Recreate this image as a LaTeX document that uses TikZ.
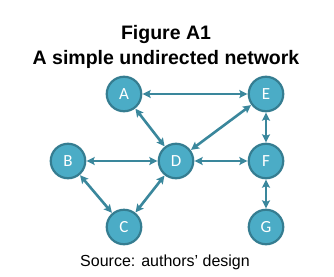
\documentclass[tikz,border=0pt]{standalone}
\usepackage{fontspec}
\setmainfont{Liberation Sans}
\newfontfamily\nodefont{Carlito}
\usetikzlibrary{arrows.meta}
\definecolor{nodefill}{HTML}{4BACC6}
\definecolor{nodeline}{HTML}{357D91}
\definecolor{edgecol}{HTML}{3A879C}
\begin{document}
\begin{tikzpicture}[x=1pt,y=-1pt,
  vertex/.style={circle,fill=nodefill,draw=nodeline,line width=2.2pt,minimum size=34.5pt,inner sep=0pt,text=white,font=\nodefont\fontsize{17}{17}\selectfont},
  link/.style={draw=edgecol,line width=2.6pt,{Stealth[length=8pt,width=8pt,inset=1.5pt]}-{Stealth[length=8pt,width=8pt,inset=1.5pt]},shorten <=0.3pt,shorten >=0.3pt}]
\useasboundingbox (0,0) rectangle (334,276);
\fill[white] (0,0) rectangle (334,276);
\node[anchor=base,font=\bfseries\fontsize{19.5}{19.5}\selectfont] (t1) at (166,39) {Figure A1};
\node[anchor=base,font=\bfseries\fontsize{19.5}{19.5}\selectfont] (t2) at (166,64.5) {A simple undirected network};
\node[vertex] (A) at (124,94) {A};
\node[vertex] (E) at (266,94) {E};
\node[vertex] (B) at (68,161) {B};
\node[vertex] (D) at (176,161) {D};
\node[vertex] (F) at (266,161) {F};
\node[vertex] (C) at (124,227) {C};
\node[vertex] (G) at (266,227) {G};
\node[anchor=base,font=\fontsize{16}{16}\selectfont] (src) at (165,266) {Source: authors’ design};
\draw[link] (A) -- (E);
\draw[link] (A) -- (D);
\draw[link] (E) -- (D);
\draw[link] (E) -- (F);
\draw[link] (B) -- (D);
\draw[link] (D) -- (F);
\draw[link] (B) -- (C);
\draw[link] (C) -- (D);
\draw[link] (F) -- (G);
\end{tikzpicture}
\end{document}
